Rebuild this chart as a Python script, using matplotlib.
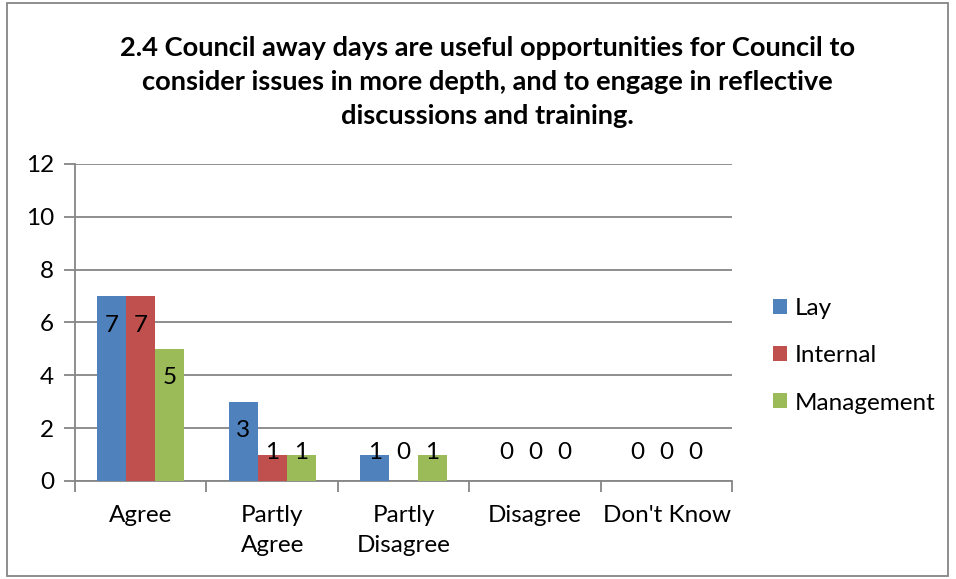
import matplotlib.pyplot as plt
import numpy as np
from matplotlib.patches import Rectangle

plt.rcParams['font.family'] = ['Lato', 'DejaVu Sans']

categories = ['Agree', 'Partly\nAgree', 'Partly\nDisagree', 'Disagree', "Don't Know"]
series_names = ['Lay', 'Internal', 'Management']
lay = [7, 3, 1, 0, 0]
internal = [7, 1, 0, 0, 0]
management = [5, 1, 1, 0, 0]
colors = ['#4F81BD', '#C0504D', '#9BBB59']
title = ('2.4 Council away days are useful opportunities for Council to\n'
         'consider issues in more depth, and to engage in reflective\n'
         'discussions and training.')

fs = 17.5
fig = plt.figure(figsize=(9.56, 5.79), dpi=100)
ax = fig.add_axes([0.0785, 0.1693, 0.766 - 0.0785, 0.7168 - 0.1693])

x = np.arange(len(categories))
w = 0.22
grid_col = '#868686'

for i, (vals, c) in enumerate(zip([lay, internal, management], colors)):
    pos = x + (i - 1) * w
    ax.bar(pos, vals, width=w, color=c, label=series_names[i], zorder=3)
    for p, v in zip(pos, vals):
        # inside-end labels, pushed up when the bar is too short
        ax.text(p, max(v - 1.1, 1.06), str(v), ha='center', va='center',
                fontsize=fs, color='black', zorder=4)

ax.set_xlim(-0.5, len(categories) - 0.5)
ax.set_ylim(0, 12)
ax.set_yticks(range(0, 13, 2))
ax.yaxis.grid(True, color=grid_col, linewidth=1.3, zorder=0)
ax.set_xticks(np.arange(-0.5, len(categories), 1.0))
ax.set_xticks(x, minor=True)
ax.set_xticklabels([''] * (len(categories) + 1))
ax.set_xticklabels(categories, minor=True, fontsize=fs, linespacing=1.58)
ax.tick_params(axis='x', which='minor', length=0, pad=17)
ax.tick_params(axis='x', which='major', length=8, width=1.3, color=grid_col, direction='out')
ax.tick_params(axis='y', length=8, width=1.3, color=grid_col, labelsize=fs, pad=7)
for s in ['top', 'right']:
    ax.spines[s].set_visible(False)
for s in ['left', 'bottom']:
    ax.spines[s].set_color(grid_col)
    ax.spines[s].set_linewidth(1.3)

ax.legend(loc='center left', bbox_to_anchor=(773 / 956, 1 - 356 / 579),
          bbox_transform=fig.transFigure, frameon=False,
          fontsize=fs, handlelength=0.58, handleheight=0.58, handletextpad=0.33,
          labelspacing=1.07, borderaxespad=0, borderpad=0)

fig.text(0.51, 1 - 82 / 579, title, ha='center', va='center', fontsize=19.6,
         fontweight='bold', linespacing=1.5)

fig.patches.append(Rectangle((7 / 956, 3 / 579), 941 / 956, 573 / 579,
                             transform=fig.transFigure, fill=False,
                             edgecolor='#868686', linewidth=1.3))

fig.savefig('out.png', dpi=100)
